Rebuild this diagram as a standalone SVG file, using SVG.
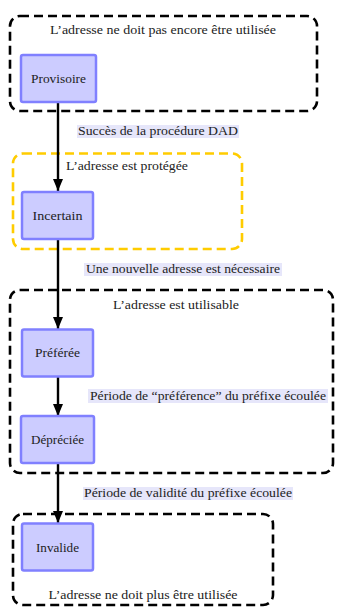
<svg xmlns="http://www.w3.org/2000/svg" width="337" height="608" viewBox="0 0 337 608">
<defs>
<marker id="ah" viewBox="0 0 12 10" refX="12" refY="5" markerWidth="12" markerHeight="10" orient="auto" markerUnits="userSpaceOnUse">
<path d="M0,0 L12,5 L0,10 z" fill="#000"/>
</marker>
</defs>
<style>
text{font-family:"Liberation Serif","Times New Roman",serif;font-size:12.5px;fill:#222;}
.grp{fill:none;stroke:#000;stroke-width:2.6;stroke-dasharray:9,5;}
.yel{stroke:#ffcc00;}
.node rect{fill:#ccccff;stroke:#8080ff;stroke-width:2.5;}
.lbl{fill:#e6e6fa;}
.conn line{stroke:#000;stroke-width:2.4;}
</style>
<g id="groups">
<g id="g-encore">
<rect class="grp" x="10" y="16" width="307" height="95" rx="10"/>
<text x="163" y="34" text-anchor="middle" textLength="226" lengthAdjust="spacingAndGlyphs">L’adresse ne doit pas encore être utilisée</text>
</g>
<g id="g-protegee">
<rect class="grp yel" x="13" y="153.5" width="229" height="95.5" rx="10"/>
<text x="127" y="170" text-anchor="middle" textLength="122" lengthAdjust="spacingAndGlyphs">L’adresse est protégée</text>
</g>
<g id="g-utilisable">
<rect class="grp" x="10" y="290" width="323" height="183" rx="10"/>
<text x="176" y="309" text-anchor="middle" textLength="126" lengthAdjust="spacingAndGlyphs">L’adresse est utilisable</text>
</g>
<g id="g-plus">
<rect class="grp" x="13" y="514" width="260" height="91" rx="10"/>
<text x="143" y="599" text-anchor="middle" textLength="189" lengthAdjust="spacingAndGlyphs">L’adresse ne doit plus être utilisée</text>
</g>
</g>
<g id="connectors" class="conn">
<line x1="58" y1="102" x2="58" y2="191" marker-end="url(#ah)"/>
<line x1="58" y1="239" x2="58" y2="329" marker-end="url(#ah)"/>
<line x1="58" y1="377" x2="58" y2="416" marker-end="url(#ah)"/>
<line x1="58" y1="463" x2="58" y2="523" marker-end="url(#ah)"/>
<rect class="lbl" x="77" y="125" width="162" height="13"/>
<text x="158" y="135" text-anchor="middle" textLength="160" lengthAdjust="spacingAndGlyphs">Succès de la procédure DAD</text>
<rect class="lbl" x="84" y="263" width="198" height="13"/>
<text x="183" y="273" text-anchor="middle" textLength="194" lengthAdjust="spacingAndGlyphs">Une nouvelle adresse est nécessaire</text>
<rect class="lbl" x="88" y="389" width="240" height="14"/>
<text x="208" y="400" text-anchor="middle" textLength="236" lengthAdjust="spacingAndGlyphs">Période de “préférence” du préfixe écoulée</text>
<rect class="lbl" x="83" y="487" width="210" height="13"/>
<text x="188" y="497" text-anchor="middle" textLength="208" lengthAdjust="spacingAndGlyphs">Période de validité du préfixe écoulée</text>
</g>
<g id="n-provisoire" class="node">
<rect x="21" y="55" width="75" height="47" rx="2"/>
<text x="58.5" y="83" text-anchor="middle" textLength="55" lengthAdjust="spacingAndGlyphs">Provisoire</text>
</g>
<g id="n-incertain" class="node">
<rect x="22" y="192" width="71" height="47" rx="2"/>
<text x="57.5" y="220" text-anchor="middle" textLength="50" lengthAdjust="spacingAndGlyphs">Incertain</text>
</g>
<g id="n-preferee" class="node">
<rect x="22" y="329.5" width="71" height="47" rx="2"/>
<text x="57.5" y="357" text-anchor="middle" textLength="45" lengthAdjust="spacingAndGlyphs">Préférée</text>
</g>
<g id="n-depreciee" class="node">
<rect x="21" y="416" width="73" height="47" rx="2"/>
<text x="57.5" y="443.5" text-anchor="middle" textLength="53" lengthAdjust="spacingAndGlyphs">Dépréciée</text>
</g>
<g id="n-invalide" class="node">
<rect x="22" y="523.5" width="71" height="47" rx="2"/>
<text x="57.5" y="552" text-anchor="middle" textLength="43" lengthAdjust="spacingAndGlyphs">Invalide</text>
</g>
</svg>
